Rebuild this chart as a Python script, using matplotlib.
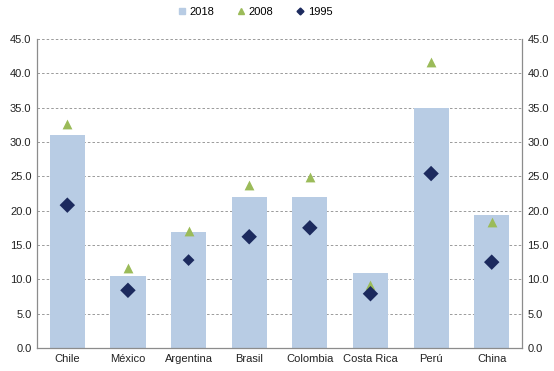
import numpy as np
import matplotlib
matplotlib.use('Agg')
import matplotlib.pyplot as plt

plt.rcParams['font.family'] = ['Liberation Sans', 'DejaVu Sans']

# data
paises = ['Chile', 'México', 'Argentina', 'Brasil', 'Colombia', 'Costa Rica', 'Perú', 'China']
v2018 = [31.0, 10.5, 16.9, 22.0, 22.0, 10.9, 34.9, 19.4]
v2008 = [32.6, 11.6, 17.0, 23.7, 24.9, 9.2, 41.6, 18.3]
v1995 = [20.8, 8.4, 12.8, 16.2, 17.5, 7.9, 25.4, 12.5]
yticks = np.arange(0, 45.1, 5)

# the Argentina diamond is drawn smaller in the original
size_1995 = [62, 62, 36, 62, 62, 62, 62, 62]

fig = plt.figure(figsize=(5.54, 3.71), dpi=100)
ax = fig.add_axes([0.0668, 0.062, 0.8755, 0.833])

x = np.arange(len(paises))
ax.bar(x, v2018, width=0.58, color='#B8CCE4', zorder=2)
ax.scatter(x, v2008, marker='^', s=50, color='#9BBB59', zorder=3, linewidths=0)
ax.scatter(x, v1995, marker='D', s=size_1995, color='#1C2A5E', zorder=4, linewidths=0)

ax.set_xlim(-0.5, len(paises) - 0.5)
ax.set_ylim(0, 45)
ax.set_yticks(yticks)
ax.set_yticklabels(['%.1f' % v for v in yticks])
ax.set_xticks(x)
ax.set_xticklabels(paises)
ax.grid(axis='y', linestyle=(0, (3, 2.5)), color='#8A8A8A', linewidth=0.6, zorder=1)
ax.tick_params(axis='both', length=0, labelsize=8, colors='#222222', pad=4)

ax.spines['top'].set_visible(False)
for s in ['left', 'right', 'bottom']:
    ax.spines[s].set_color('#8C8C8C')
    ax.spines[s].set_linewidth(0.9)

ax2 = ax.twinx()
ax2.set_ylim(0, 45)
ax2.set_yticks(yticks)
ax2.set_yticklabels(['%.1f' % v for v in yticks])
ax2.tick_params(axis='y', length=0, labelsize=8, colors='#222222', pad=4)
for s in ['top', 'left', 'bottom', 'right']:
    ax2.spines[s].set_visible(False)

# legend with small square for the bars
sq = plt.Line2D([], [], marker='s', linestyle='none', color='#B8CCE4', markersize=5)
tr = plt.Line2D([], [], marker='^', linestyle='none', color='#9BBB59', markersize=5)
di = plt.Line2D([], [], marker='D', linestyle='none', color='#1C2A5E', markersize=3.5)
fig.legend([sq, tr, di], ['2018', '2008', '1995'], loc='center',
           bbox_to_anchor=(0.46, 0.967), ncol=3, frameon=False,
           fontsize=8, handlelength=0.8, handletextpad=0.3, columnspacing=2.0)

fig.savefig('out.png', dpi=100)
